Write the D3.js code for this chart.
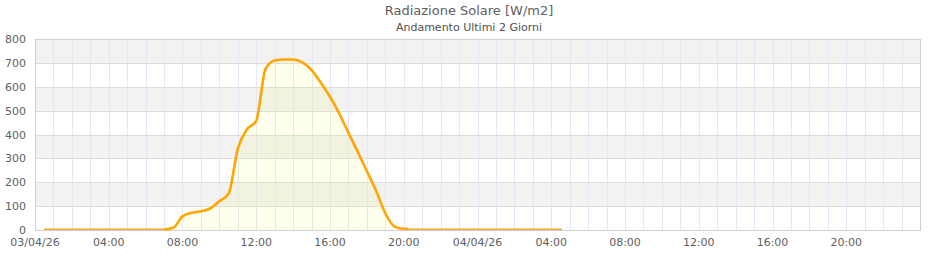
<!DOCTYPE html>
<html><head><meta charset="utf-8">
<script src="https://cdn.jsdelivr.net/npm/d3@7"></script>
<style>body{margin:0;background:#fff;} svg{display:block;font-family:"DejaVu Sans",Verdana,sans-serif;}</style>
</head><body>
<svg id="c" width="940" height="260"></svg>
<script>
const title = "Radiazione Solare [W/m2]";
const subtitle = "Andamento Ultimi 2 Giorni";
const yTicks = [0,100,200,300,400,500,600,700,800];
const mainTimes = ["2026-04-03 07:00","2026-04-03 07:30","2026-04-03 08:00","2026-04-03 08:30","2026-04-03 09:00","2026-04-03 09:30","2026-04-03 10:00","2026-04-03 10:30","2026-04-03 11:00","2026-04-03 11:30","2026-04-03 12:00","2026-04-03 12:30","2026-04-03 13:00","2026-04-03 13:30","2026-04-03 14:00","2026-04-03 14:30","2026-04-03 15:00","2026-04-03 15:30","2026-04-03 16:00","2026-04-03 16:30","2026-04-03 17:00","2026-04-03 17:30","2026-04-03 18:00","2026-04-03 18:30","2026-04-03 19:00","2026-04-03 19:30","2026-04-03 20:00","2026-04-03 20:15"];
const mainValues = [0,7,55,70,76,88,118,150,338,420,455,672,708,712,712,700,668,615,556,486,405,326,244,162,68,12,3,3];
const flat1Times = ["2026-04-03 00:30","2026-04-03 07:00"];
const flat1Values = [0,0];
const flat2Times = ["2026-04-03 20:15","2026-04-04 04:35"];
const flat2Values = [0,0];

const parse = d3.timeParse("%Y-%m-%d %H:%M");
const svg = d3.select("#c");
const L=35,R=920,T=39,B=230;
const x = d3.scaleTime().domain([parse("2026-04-03 00:00"), parse("2026-04-05 00:00")]).range([L,R]);
const y = d3.scaleLinear().domain([0,800]).range([B,T]);

for(let i=0;i<8;i++){
  svg.append("rect").attr("x",L).attr("y",y(yTicks[i+1])).attr("width",R-L).attr("height",y(yTicks[i])-y(yTicks[i+1]))
    .attr("fill", i%2===1 ? "#f2f2f2" : "#ffffff");
}
const hours = d3.timeHour.every(1).range(x.domain()[0], x.domain()[1]);
svg.append("g").selectAll("line").data(hours.slice(1)).join("line")
  .attr("x1",d=>Math.round(x(d))+0.5).attr("x2",d=>Math.round(x(d))+0.5).attr("y1",T).attr("y2",B)
  .attr("stroke","#e6e6f6").attr("stroke-width",1);
svg.append("g").selectAll("line").data(yTicks).join("line")
  .attr("x1",L).attr("x2",R).attr("y1",d=>Math.round(y(d))+0.5).attr("y2",d=>Math.round(y(d))+0.5)
  .attr("stroke","#dddddd").attr("stroke-width",1);
svg.append("rect").attr("x",L+0.5).attr("y",T+0.5).attr("width",R-L).attr("height",B-T)
  .attr("fill","none").attr("stroke","#d0d0d0");

const mainData = mainTimes.map((t,i)=>({t:parse(t),v:mainValues[i]}));
svg.append("path").datum(mainData)
  .attr("d", d3.area().x(d=>x(d.t)).y0(y(0)).y1(d=>y(d.v)).curve(d3.curveMonotoneX))
  .attr("fill","rgba(255,255,0,0.07)");
const mk = (ts,vs)=>ts.map((t,i)=>({t:parse(t),v:vs[i]}));
[mk(flat1Times,flat1Values), mk(flat2Times,flat2Values)].forEach(dd=>{
  svg.append("path").datum(dd)
    .attr("d", d3.line().x(d=>x(d.t)).y(d=>y(d.v)-0.8))
    .attr("fill","none").attr("stroke","#f0a830").attr("stroke-width",1.6);
});
svg.append("path").datum(mainData)
  .attr("d", d3.line().x(d=>x(d.t)).y(d=>y(d.v)-0.5).curve(d3.curveMonotoneX))
  .attr("fill","none").attr("stroke","#ffa500").attr("stroke-width",2.6).attr("stroke-linejoin","round");

svg.append("g").selectAll("text").data(yTicks).join("text")
  .attr("x",26).attr("y",d=>y(d)+4).attr("text-anchor","end")
  .attr("font-size",11).attr("fill","#606060").text(d=>d);
const xt = d3.timeHour.every(4).range(x.domain()[0], x.domain()[1]);
svg.append("g").selectAll("text").data(xt).join("text")
  .attr("x",d=>x(d)).attr("y",246).attr("text-anchor","middle")
  .attr("font-size",11).attr("fill","#606060")
  .text(d=> d.getHours()===0 ? d3.timeFormat("%d/%m/%y")(d) : d3.timeFormat("%H:%M")(d));

svg.append("text").attr("x",469).attr("y",15).attr("text-anchor","middle").attr("font-size",13).attr("fill","#606060").text(title);
svg.append("text").attr("x",469).attr("y",31).attr("text-anchor","middle").attr("font-size",11).attr("fill","#505050").text(subtitle);
</script>
</body></html>
